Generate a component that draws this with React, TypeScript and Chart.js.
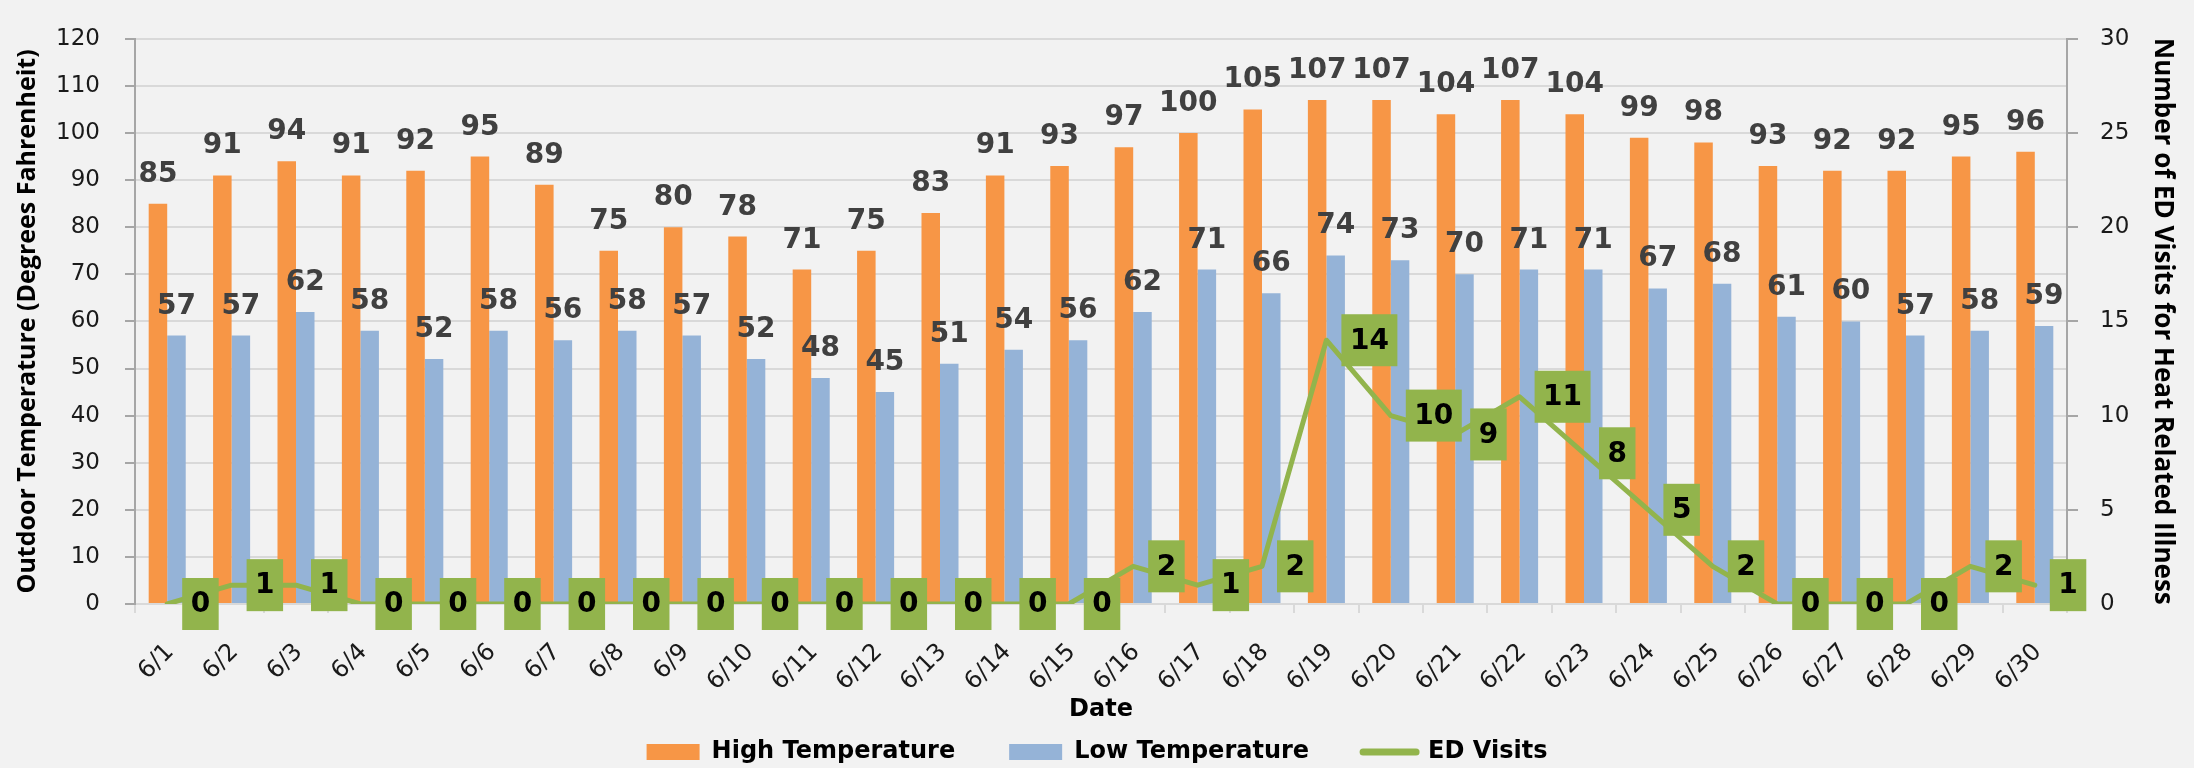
import { useEffect, useRef } from "react";
import { Chart, registerables } from "chart.js";

Chart.register(...registerables);

const dates = [
  "6/1", "6/2", "6/3", "6/4", "6/5", "6/6", "6/7", "6/8", "6/9", "6/10",
  "6/11", "6/12", "6/13", "6/14", "6/15", "6/16", "6/17", "6/18", "6/19", "6/20",
  "6/21", "6/22", "6/23", "6/24", "6/25", "6/26", "6/27", "6/28", "6/29", "6/30",
];
const highTemps = [85, 91, 94, 91, 92, 95, 89, 75, 80, 78, 71, 75, 83, 91, 93, 97, 100, 105, 107, 107, 104, 107, 104, 99, 98, 93, 92, 92, 95, 96];
const lowTemps = [57, 57, 62, 58, 52, 58, 56, 58, 57, 52, 48, 45, 51, 54, 56, 62, 71, 66, 74, 73, 70, 71, 71, 67, 68, 61, 60, 57, 58, 59];
const edVisits = [0, 1, 1, 0, 0, 0, 0, 0, 0, 0, 0, 0, 0, 0, 0, 2, 1, 2, 14, 10, 9, 11, 8, 5, 2, 0, 0, 0, 2, 1];

const seriesNames = ["High Temperature", "Low Temperature", "ED Visits"];
const xTitle = "Date";
const leftTitle = "Outdoor Temperature (Degrees Fahrenheit)";
const rightTitle = "Number of ED Visits for Heat Related Illness";

const ORANGE = "#F79646";
const BLUE = "#95B3D7";
const GREEN = "#92B44C";
const BG = "#F2F2F2";

const W = 2194;
const H = 768;

const valueLabels = {
  id: "valueLabels",
  afterDatasetsDraw(chart: any) {
    const ctx = chart.ctx;
    ctx.save();
    chart.data.datasets.forEach((ds: any, di: number) => {
      const meta = chart.getDatasetMeta(di);
      if (meta.type !== "bar" || meta.hidden) return;
      ctx.font = "bold 28px 'DejaVu Sans'";
      ctx.fillStyle = "#404040";
      ctx.textAlign = "center";
      ctx.textBaseline = "alphabetic";
      meta.data.forEach((el: any, i: number) => {
        ctx.fillText(String(ds.data[i]), el.x, el.y - 22);
      });
    });
    chart.data.datasets.forEach((ds: any, di: number) => {
      const meta = chart.getDatasetMeta(di);
      if (meta.type !== "line" || meta.hidden) return;
      ctx.font = "bold 28px 'DejaVu Sans'";
      meta.data.forEach((el: any, i: number) => {
        const txt = String(ds.data[i]);
        const tw = ctx.measureText(txt).width;
        const bw = tw + 17;
        const bh = 52;
        const bx = el.x + 15;
        const by = el.y - bh / 2;
        ctx.fillStyle = GREEN;
        ctx.fillRect(bx, by, bw, bh);
        ctx.fillStyle = "#000";
        ctx.textAlign = "center";
        ctx.textBaseline = "middle";
        ctx.fillText(txt, bx + bw / 2, el.y + 1);
      });
    });
    ctx.restore();
  },
};

const fixLayout = {
  id: "fixLayout",
  afterLayout(chart: any) {
    const lg = chart.legend;
    if (lg) {
      const h = lg.height;
      lg.top = 686;
      lg.bottom = 686 + h;
    }
    const xs = chart.scales.x;
    if (xs) xs.bottom = 724;
  },
};

export default function App() {
  const ref = useRef<HTMLCanvasElement | null>(null);

  useEffect(() => {
    document.body.style.margin = "0";
    document.body.style.background = BG;
    if (!ref.current) return;
    const chart = new Chart(ref.current, {
      type: "bar",
      data: {
        labels: dates,
        datasets: [
          {
            type: "bar",
            label: seriesNames[0],
            data: highTemps,
            backgroundColor: ORANGE,
            yAxisID: "y",
            order: 1,
            categoryPercentage: 0.575,
            barPercentage: 1,
          },
          {
            type: "bar",
            label: seriesNames[1],
            data: lowTemps,
            backgroundColor: BLUE,
            yAxisID: "y",
            order: 2,
            categoryPercentage: 0.575,
            barPercentage: 1,
          },
          {
            type: "line",
            label: seriesNames[2],
            data: edVisits,
            borderColor: GREEN,
            backgroundColor: GREEN,
            borderWidth: 5,
            tension: 0,
            pointRadius: 0,
            borderJoinStyle: "round",
            borderCapStyle: "round",
            fill: false,
            yAxisID: "y1",
            order: 0,
          } as any,
        ],
      },
      options: {
        animation: false,
        responsive: false,
        devicePixelRatio: 1,
        layout: { padding: { top: 20, left: 0, right: 0, bottom: 0 } },
        plugins: {
          tooltip: { enabled: false },
          legend: {
            display: true,
            position: "bottom",
            labels: {
              usePointStyle: true,
              pointStyleWidth: 53,
              boxHeight: 16,
              padding: 54,
              color: "#000",
              font: { family: "'DejaVu Sans'", size: 24, weight: "bold" },
              generateLabels: () => [
                { text: seriesNames[0], fillStyle: ORANGE, strokeStyle: ORANGE, lineWidth: 0, pointStyle: "rect", datasetIndex: 0, hidden: false, fontColor: "#000" },
                { text: seriesNames[1], fillStyle: BLUE, strokeStyle: BLUE, lineWidth: 0, pointStyle: "rect", datasetIndex: 1, hidden: false, fontColor: "#000" },
                { text: seriesNames[2], fillStyle: GREEN, strokeStyle: GREEN, lineWidth: 7, lineCap: "round", pointStyle: "line", datasetIndex: 2, hidden: false, fontColor: "#000" },
              ] as any,
            },
          },
        },
        scales: {
          x: {
            afterFit: (s: any) => { s.height = 76; },
            grid: {
              display: true,
              drawOnChartArea: false,
              drawTicks: true,
              tickLength: 9,
              color: "#D9D9D9",
              tickColor: "#D9D9D9",
              lineWidth: 2,
              offset: true,
            },
            border: { color: "#D9D9D9", width: 2 },
            ticks: {
              autoSkip: false,
              minRotation: 45,
              maxRotation: 45,
              padding: 25,
              labelOffset: 3,
              color: "#1a1a1a",
              font: { family: "'DejaVu Sans'", size: 24 },
            },
            title: {
              display: true,
              text: xTitle,
              color: "#000",
              font: { family: "'DejaVu Sans'", size: 24, weight: "bold" },
              padding: { top: 0, bottom: 0 },
            },
          },
          y: {
            position: "left",
            min: 0,
            max: 120,
            afterFit: (s: any) => { s.width = 135; },
            grid: {
              color: "#D9D9D9",
              lineWidth: 2,
              tickLength: 10,
              tickColor: "#A6A6A6",
            },
            border: { color: "#A6A6A6", width: 2 },
            ticks: {
              stepSize: 10,
              padding: 25,
              color: "#1a1a1a",
              font: { family: "'DejaVu Sans'", size: 23 },
            },
            title: {
              display: true,
              text: leftTitle,
              color: "#000",
              font: { family: "'Open Sans'", size: 25, weight: "bold" },
              padding: { top: 13, bottom: 0 },
            },
          },
          y1: {
            position: "right",
            min: 0,
            max: 30,
            afterFit: (s: any) => { s.width = 127; },
            grid: {
              drawOnChartArea: false,
              tickLength: 11,
              tickColor: "#A6A6A6",
              lineWidth: 2,
            },
            border: { color: "#A6A6A6", width: 2 },
            ticks: {
              stepSize: 5,
              padding: 22,
              color: "#1a1a1a",
              font: { family: "'DejaVu Sans'", size: 23 },
            },
            title: {
              display: true,
              text: rightTitle,
              color: "#000",
              font: { family: "'Open Sans'", size: 26, weight: "bold" },
              padding: { top: 16, bottom: 0 },
            },
          },
        },
      },
      plugins: [valueLabels, fixLayout],
    });
    return () => chart.destroy();
  }, []);

  return (
    <div style={{ width: W, height: H, background: BG }}>
      <canvas ref={ref} width={W} height={H} style={{ display: "block", width: W, height: H }} />
    </div>
  );
}
